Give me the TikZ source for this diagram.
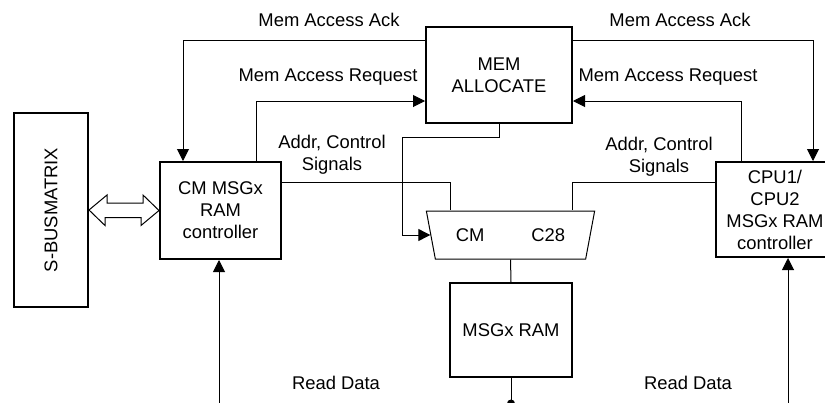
\documentclass[tikz,border=0pt]{standalone}
\usepackage{fontspec}
\setmainfont{Liberation Sans}
\usetikzlibrary{arrows.meta,shapes.geometric}

\begin{document}
\begin{tikzpicture}[x=0.5pt, y=-0.5pt,
        font=\fontsize{9.2}{11}\selectfont,
        box/.style={rectangle, draw, line width=1pt, align=center, inner sep=0pt},
        line/.style={line width=0.5pt},
        arrow/.style={->, >={Triangle[length=6pt,width=6pt]}, line width=0.5pt},
        lbl/.style={align=center, inner sep=0pt}
    ]
    \useasboundingbox (0,0) rectangle (825,402);

    % Blocks
    \node[box, minimum width=37pt, minimum height=97pt] (sbus) at (51,210) {\rotatebox{90}{S-BUSMATRIX}};
    \node[box, minimum width=60.5pt, minimum height=48.5pt] (cmctl) at (220.5,210.5) {CM MSGx\\RAM\\controller};
    \node[box, minimum width=73pt, minimum height=48pt] (memalloc) at (499,75) {MEM\\ALLOCATE};
    \node[box, minimum width=59pt, minimum height=47.5pt] (cpuctl) at (775,209.5) {CPU1/\\CPU2\\MSGx RAM\\controller};
    \node[box, minimum width=61pt, minimum height=47pt] (ram) at (511,330) {MSGx RAM};

    % Mux
    \node[trapezium, draw, line width=0.5pt, shape border rotate=180,
          trapezium left angle=63.4, trapezium right angle=63.4, trapezium stretches=true,
          minimum width=84.5pt, minimum height=24pt, inner sep=0pt] (mux) at (510.5,235) {CM\hspace{23.4pt}C28};

    % Labels
    \node[lbl] (ackl) at (329,20) {Mem Access Ack};
    \node[lbl] (ackr) at (680,20) {Mem Access Ack};
    \node[lbl] (reql) at (328,77) {Mem Access Request};
    \node[lbl] (reqr) at (668,77) {Mem Access Request};
    \node[lbl] (sigl) at (332,155) {Addr, Control\\Signals};
    \node[lbl] (sigr) at (659,157) {Addr, Control\\Signals};
    \node[lbl] (rdl) at (336,383) {Read Data};
    \node[lbl] (rdr) at (688,383) {Read Data};

    % Free ends
    \coordinate (bend) at (402,137);
    \coordinate (rdinl) at (219,408);
    \coordinate (rdinr) at (788,408);
    \coordinate (rdout) at (511,403.5);

    % Bus link
    \draw[line] (sbus.east) -- ++(18,-15) -- ++(0,8) -- ++(36,0) -- ++(0,-8) -- (cmctl.west)
        -- ++(-18,15) -- ++(0,-8) -- ++(-36,0) -- ++(0,8) -- cycle;

    % Arrows
    \draw[arrow] ([yshift=-7pt]memalloc.north west) -| ([xshift=-18.75pt]cmctl.north);
    \draw[arrow] ([xshift=17.75pt]cmctl.north) |- ([yshift=-13pt]memalloc.west);
    \draw[arrow] ([yshift=-7pt]memalloc.north east) -| ([xshift=19pt]cpuctl.north);
    \draw[arrow] ([xshift=-17pt]cpuctl.north) |- ([yshift=-13pt]memalloc.east);
    \draw[line] ([yshift=-10.5pt]cmctl.north east) -| ([xshift=-30.25pt]mux.north);
    \draw[line] ([yshift=-10.5pt]cpuctl.north west) -| ([xshift=30.75pt]mux.north);
    \draw[arrow] (memalloc.south) |- (bend) |- (mux.west);
    \draw[line] (mux.south) -- (ram.north);
    \draw[line] (ram.south) -- (rdout);
    \fill (rdout) circle (2pt);
    \draw[arrow] (rdinl) -- (rdinl |- cmctl.south);
    \draw[arrow] (rdinr) -- (rdinr |- cpuctl.south);

\end{tikzpicture}
\end{document}
